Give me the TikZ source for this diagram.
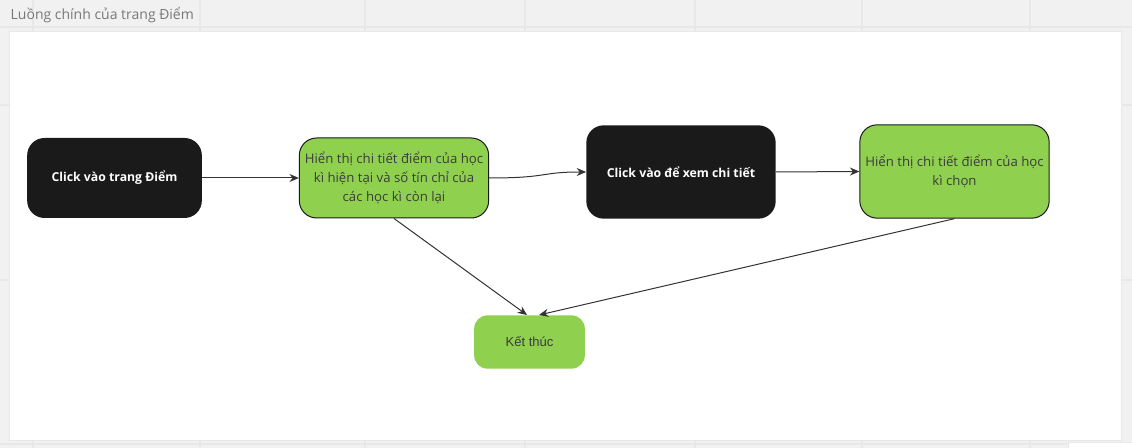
\documentclass[tikz,border=0pt]{standalone}
\usepackage{fontspec}
\setmainfont{Open Sans}
\newfontfamily\arialfont{Liberation Sans}
\usepackage{tikz}
\usetikzlibrary{
  arrows.meta,
  positioning
}
\definecolor{inkblack}{RGB}{26,26,26}
\definecolor{leafgreen}{RGB}{143,209,79}
\definecolor{boardgray}{RGB}{241,241,241}
\definecolor{gridgray}{RGB}{232,232,232}
\definecolor{titlegray}{RGB}{120,120,120}
\definecolor{linegray}{RGB}{51,51,51}

\begin{document}
\begin{tikzpicture}[x=0.75pt, y=-0.75pt, every node/.style={font=\fontsize{9.9}{14.3}\selectfont},
  darkbox/.style={rounded corners=13pt, fill=inkblack, text=white, font=\fontsize{9.2}{14}\selectfont\bfseries, align=center, inner sep=0pt},
  greenbox/.style={rounded corners=13pt, fill=leafgreen, draw=inkblack, line width=0.75pt, text=inkblack!85, align=center, inner sep=0pt},
  flow/.style={draw=linegray, line width=0.75pt, -{Stealth[length=7pt, width=6pt]}}]
            % Board background
            \useasboundingbox (0,0) rectangle (1132,448);
            \fill[boardgray] (0,0) rectangle (1132,448);
            \foreach \gx in {33,200,365,525,695,862,1030} {
              \draw[gridgray, line width=1pt] (\gx,0) -- (\gx,448);
            }
            \foreach \gy in {27,105,280,444} {
              \draw[gridgray, line width=1pt] (0,\gy) -- (1132,\gy);
            }
            \draw[gridgray, fill=white] (1068,442) rectangle (1134,450);
            
            % Frame
            \draw[gridgray, fill=white] (9,31) rectangle (1121,440);
            \node[anchor=west, text=titlegray, font=\fontsize{10.5}{13}\selectfont] (title) at (6,15) {Luồng chính của trang Điểm};
            
            % Steps
            \node[darkbox, minimum width=131pt, minimum height=60pt] (clickdiem) at (114.5,178) {Click vào trang Điểm};
            \node[greenbox, minimum width=142pt, minimum height=60pt] (hienthi) at (394,178) {Hiển thị chi tiết điểm của học\\kì hiện tại và số tín chỉ của\\các học kì còn lại};
            \node[darkbox, minimum width=142pt, minimum height=70pt] (clickxem) at (681,172) {Click vào để xem chi tiết};
            \node[greenbox, minimum width=142pt, minimum height=70pt] (hienchon) at (954.5,171.5) {Hiển thị chi tiết điểm của học\\kì chọn};
            \node[rounded corners=10pt, fill=leafgreen, text=inkblack!85, minimum width=83pt, minimum height=40pt, font=\fontsize{9.8}{12}\arialfont] (ketthuc) at (529.5,342) {Kết thúc};
            \coordinate (endleft) at (527,315);
            \coordinate (endright) at (539,315);
            
            % Arrows
            \draw[flow] (clickdiem.east) -- (hienthi.west);
            \draw[flow] (hienthi.east) .. controls ([xshift=45pt]hienthi.east) and ([xshift=-35pt]clickxem.west) .. (clickxem.west);
            \draw[flow] (clickxem.east) -- (hienchon.west);
            \draw[flow] (hienthi.south) -- (endleft);
            \draw[flow] (hienchon.south) -- (endright);
        \end{tikzpicture}
\end{document}
